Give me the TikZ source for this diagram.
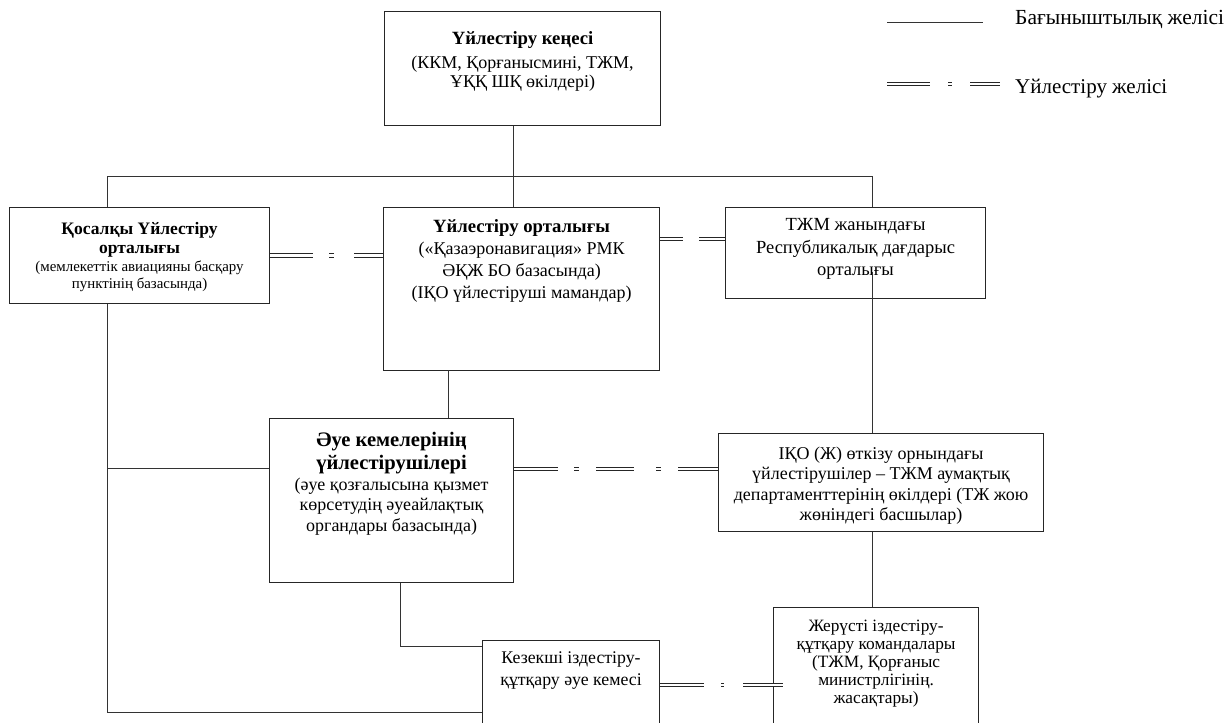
\documentclass[tikz,border=0pt]{standalone}
\usepackage{fontspec}
\setmainfont{Liberation Serif}
\usetikzlibrary{positioning,calc}

\newcommand{\ttl}[2][18.7]{{\fontsize{#1}{#1}\selectfont\bfseries #2}}

\begin{document}
\begin{tikzpicture}[
x=1pt, y=-1pt,
box/.style={draw=black!85, line width=1.1pt, fill=white, anchor=north west, inner sep=0pt},
txt/.style={align=center, inner sep=0pt, font=\fontsize{18}{22}\selectfont},
sub/.style={draw=black!80, line width=1pt},
coordline/.style={draw=black!85, double=white, double distance=2.5pt, line width=0.9pt}
]
\clip (0,0) rectangle (1227,723);
\fill[white] (0,0) rectangle (1227,723);

% boxes
\node[box, minimum width=276pt, minimum height=114pt] (sovet) at (384,11) {};
\node[box, minimum width=260pt, minimum height=96pt] (kosalky) at (9,207) {};
\node[box, minimum width=276pt, minimum height=163pt] (orta) at (383,207) {};
\node[box, minimum width=260pt, minimum height=91pt] (tjm) at (725,207) {};
\node[box, minimum width=244pt, minimum height=164pt] (aue) at (269,418) {};
\node[box, minimum width=325pt, minimum height=98pt] (iko) at (718,433) {};
\node[box, minimum width=177pt, minimum height=100pt] (kezek) at (482,640) {};
\node[box, minimum width=205pt, minimum height=130pt] (zher) at (773,607) {};

% box texts
\node[txt, below=20pt of sovet.north, font=\fontsize{18}{19}\selectfont] (sovetT)
  {\ttl{Үйлестіру кеңесі}\\[5pt](ККМ, Қорғанысмині, ТЖМ,\\ҰҚҚ ШҚ өкілдері)};
\node[txt, below=15pt of kosalky.north, font=\fontsize{14.9}{17}\selectfont] (kosalkyT)
  {\ttl[17.5]{Қосалқы Үйлестіру}\\[2pt]\ttl[17.5]{орталығы}\\[1pt](мемлекеттік авиацияны басқару\\пунктінің базасында)};
\node[txt, below=12.5pt of orta.north] (ortaT)
  {\ttl{Үйлестіру орталығы}\\(«Қазаэронавигация» РМК\\ӘҚЖ БО базасында)\\(ІҚО үйлестіруші мамандар)};
\node[txt, below=11.5pt of tjm.north, font=\fontsize{18.5}{22.5}\selectfont] (tjmT)
  {ТЖМ жанындағы\\Республикалық дағдарыс\\орталығы};
\node[txt, below=14pt of aue.north, font=\fontsize{18}{20.5}\selectfont] (aueT)
  {\ttl[20.6]{Әуе кемелерінің}\\[3pt]\ttl[20.6]{үйлестірушілері}\\(әуе қозғалысына қызмет\\көрсетудің әуеайлақтық\\органдары базасында)};
\node[txt, below=13.5pt of iko.north, font=\fontsize{18}{20.5}\selectfont] (ikoT)
  {ІҚО (Ж) өткізу орнындағы\\үйлестірушілер – ТЖМ аумақтық\\департаменттерінің өкілдері (ТЖ жою\\жөніндегі басшылар)};
\node[txt, below=11.5pt of kezek.north, font=\fontsize{17.8}{22}\selectfont] (kezekT)
  {Кезекші іздестіру-\\құтқару әуе кемесі};
\node[txt, below=13pt of zher.north, font=\fontsize{17.3}{18}\selectfont] (zherT)
  {Жерүсті іздестіру-\\құтқару командалары\\(ТЖМ, Қорғаныс\\министрлігінің.\\жасақтары)};

% subordination lines
\coordinate (busL) at (107,176);
\coordinate (busM) at (513,176);
\coordinate (busR) at (872,176);
\coordinate (tjmIn) at (872,272);
\coordinate (aueL) at (107,468);
\coordinate (botL) at (107,712);
\coordinate (aueB) at (400,646);
\draw[sub] (busM |- sovet.south) -- (busM |- orta.north);
\draw[sub] (busL |- kosalky.north) -- (busL) -- (busR) -- (busR |- tjm.north);
\draw[sub] (busL |- kosalky.south) -- (botL) -- (botL -| kezek.west);
\draw[sub] (aueL) -- (aueL -| aue.west);
\draw[sub] (448,370) coordinate (ortaB) -- (ortaB |- aue.north);
\draw[sub] (aueB |- aue.south) -- (aueB) -- (aueB -| kezek.west);
\draw[sub] (tjmIn) -- (tjmIn |- iko.north);
\draw[sub] (tjmIn |- iko.south) -- (tjmIn |- zher.north);

% coordination lines
\draw[coordline, dash pattern=on 43pt off 16pt on 5pt off 20pt on 40pt]
  (kosalky.east) -- (kosalky.east -| orta.west);
\draw[coordline, dash pattern=on 23pt off 16pt on 40pt]
  ($(orta.north east)+(0,32)$) coordinate (ortaR) -- (ortaR -| tjm.west);
\draw[coordline, dash pattern=on 44pt off 16pt on 5pt off 17pt on 38pt off 22pt on 5pt off 17pt on 50pt]
  ($(aue.north east)+(0,51)$) coordinate (aueR) -- (aueR -| iko.west);
\draw[coordline, dash pattern=on 44pt off 17pt on 3pt off 19pt on 41pt]
  ($(kezek.north east)+(0,45)$) coordinate (kezekR) -- ($(kezekR -| zher.west)+(10,0)$);

% legend
\coordinate (legA) at (887,22);
\coordinate (legB) at (983,22);
\coordinate (legC) at (887,84);
\coordinate (legD) at (1000,84);
\draw[sub] (legA) -- (legB);
\draw[coordline, dash pattern=on 43pt off 18pt on 4pt off 18pt on 40pt] (legC) -- (legD);
\node[txt, anchor=west, font=\fontsize{21.5}{24}\selectfont] (legSub) at (1015,19) {Бағыныштылық желісі};
\node[txt, anchor=west, font=\fontsize{21}{24}\selectfont] (legCoord) at (1015,89) {Үйлестіру желісі};
\end{tikzpicture}
\end{document}
